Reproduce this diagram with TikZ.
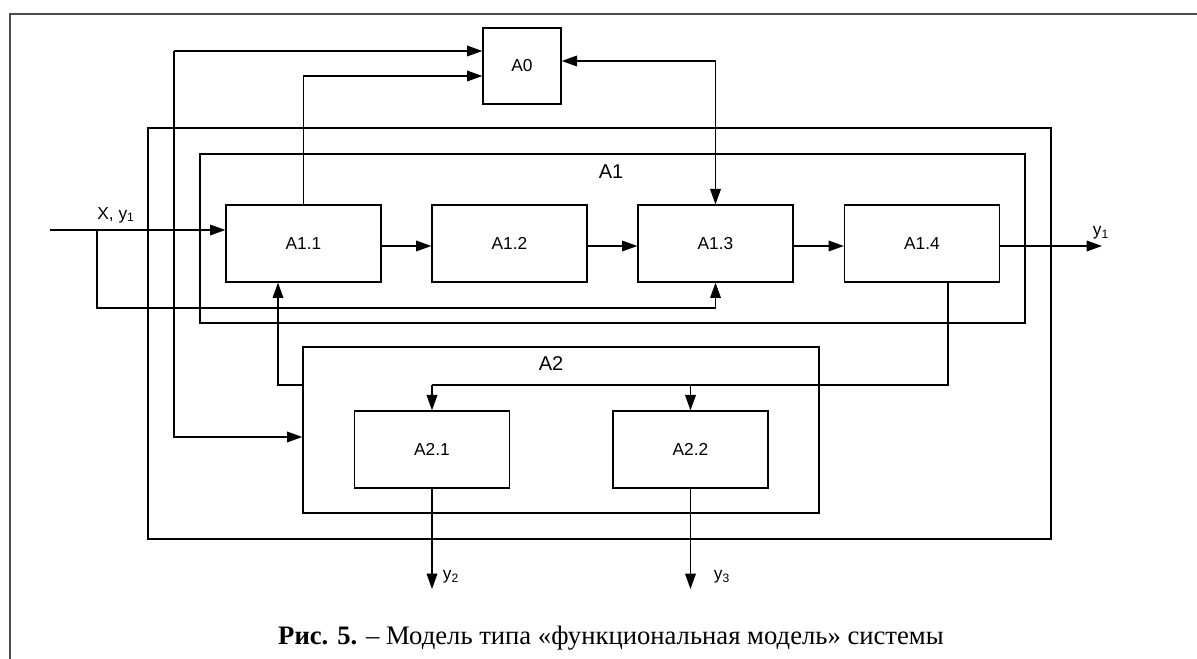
\documentclass[tikz,border=0pt]{standalone}
\usepackage{fontspec}
\setmainfont{Liberation Serif}
\setsansfont{Liberation Sans}
\usetikzlibrary{arrows.meta}

\begin{document}
\begin{tikzpicture}[x=0.75pt, y=-0.75pt,
    >={Triangle[length=11.5pt,width=8pt]},
    line width=1pt,
    blk/.style={draw, inner sep=0pt, minimum width=116.25pt, minimum height=57.75pt, font=\sffamily\fontsize{13}{15}\selectfont},
    frm/.style={draw, inner sep=0pt},
    lbl/.style={inner sep=0pt, font=\sffamily\fontsize{13}{15}\selectfont},
    ttl/.style={inner sep=0pt, font=\sffamily\fontsize{15}{18}\selectfont}]

        \useasboundingbox (0,0) rectangle (1197,659);

        %
        \draw[line width=1.3pt, black!70] (10,659) -- (10,14) -- (1197,14);

        %
        \node[frm, minimum width=677.25pt, minimum height=308.25pt] (sys) at (599.5,333.5) {};
        \node[frm, minimum width=618.75pt, minimum height=126.75pt] (A1box) at (612.5,238.5) {};
        \node[frm, minimum width=387pt, minimum height=124.5pt] (A2box) at (561,430) {};
        \node[ttl] (A1lbl) at (611,172) {A1};
        \node[ttl] (A2lbl) at (551,364) {A2};

        %
        \node[blk, minimum width=58.5pt, minimum height=57pt] (A0) at (522,66) {A0};
        \node[blk] (A11) at (303.5,243.5) {A1.1};
        \node[blk] (A12) at (509.5,243.5) {A1.2};
        \node[blk] (A13) at (715.5,243.5) {A1.3};
        \node[blk] (A14) at (922,243.5) {A1.4};
        \node[blk] (A21) at (432,449.5) {A2.1};
        \node[blk] (A22) at (690.5,449.5) {A2.2};

        %
        \coordinate (in) at (50,230);
        \coordinate (br) at (97,230);
        \coordinate (fb) at (174,51);
        \coordinate (row) at (0,246);
        \coordinate (out1) at (1102,246);

        %
        \draw[->] (in) -- (A11.west |- in);
        \draw[->] (br) -- (br |- 0,308) -| (A13.south);

        %
        \draw[->] (A11.east |- row) -- (A12.west |- row);
        \draw[->] (A12.east |- row) -- (A13.west |- row);
        \draw[->] (A13.east |- row) -- (A14.west |- row);
        \draw[->] (A14.east |- row) -- (out1);

        %
        \draw[->] (A11.north) |- (A0.west |- 0,76);
        \draw[->] (fb) -- (A0.west |- fb);
        \draw[->] (fb) |- (A2box.west |- 0,437);
        \draw[<->] (A0.east |- 0,61) -| (A13.north);

        %
        \draw[->] (A2box.west |- 0,385) -| (A11.south -| 278,0);
        \draw (A14.south -| 948,0) |- (A21.north |- 0,385);
        \draw[->] (A21.north |- 0,385) -- (A21.north);
        \draw[->] (A22.north |- 0,385) -- (A22.north);
        \draw[->] (A21.south) -- (A21.south |- 0,589);
        \draw[->] (A22.south) -- (A22.south |- 0,589);

        %
        \node[lbl] (lx) at (116,215) {X, y\textsubscript{1}};
        \node[lbl] (ly1) at (1101,233) {y\textsubscript{1}};
        \node[lbl] (ly2) at (451,577) {y\textsubscript{2}};
        \node[lbl] (ly3) at (722,577) {y\textsubscript{3}};

        %
        \node[inner sep=0pt, font=\fontsize{20}{24}\selectfont] (cap) at (611,638)
            {\textbf{Рис. 5.} – Модель типа «функциональная модель» системы};

    \end{tikzpicture}
\end{document}
